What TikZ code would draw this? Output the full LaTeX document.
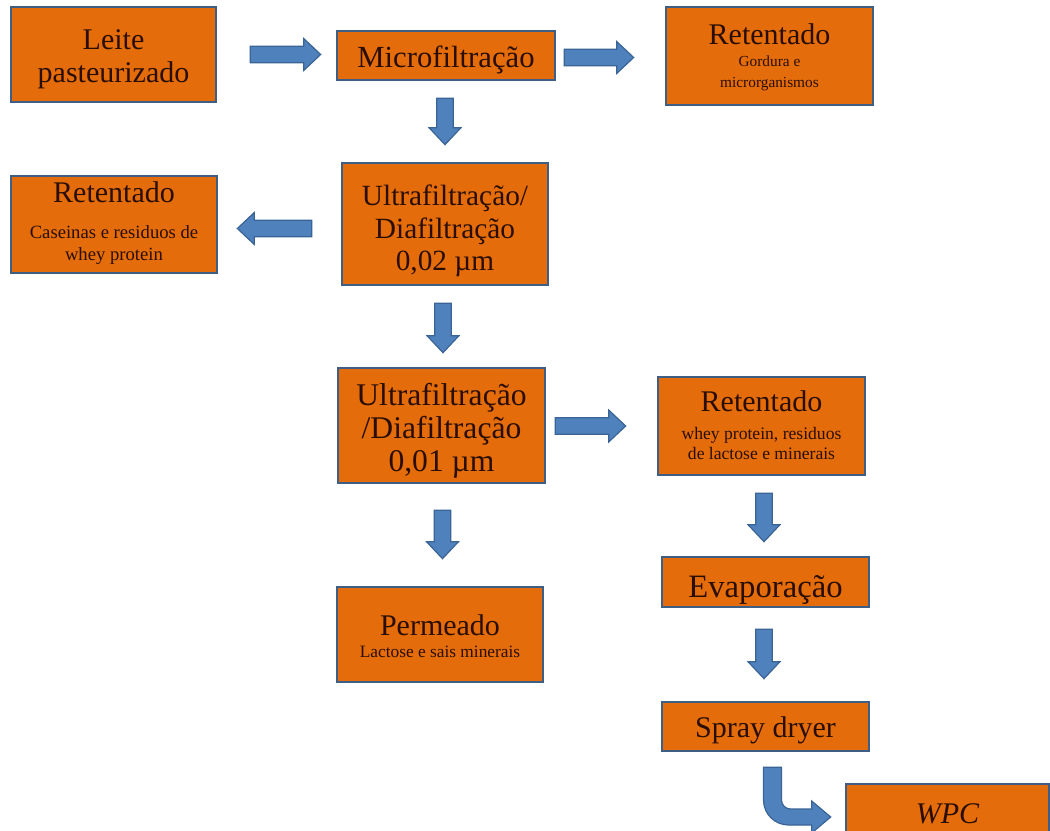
\documentclass[tikz,border=0pt]{standalone}
\usepackage{fontspec}
\setmainfont{Liberation Serif}
\usetikzlibrary{calc}

\definecolor{boxfill}{HTML}{E46C0A}
\definecolor{boxline}{HTML}{3F5E86}
\definecolor{arrowfill}{HTML}{4F81BD}
\definecolor{arrowline}{HTML}{3A6496}
\definecolor{ink}{HTML}{2A0E05}

\newcommand\bigtxt{\fontsize{22.5}{25}\selectfont}

\tikzset{
  box/.style={rectangle, draw=boxline, line width=2pt, fill=boxfill, text=ink,
    align=center, inner sep=0pt, font=\bigtxt, text depth=0pt},
  % width and height of a box, in pixels of the layout grid
  sz/.style n args={2}{minimum width=#1*0.75pt, minimum height=#2*0.75pt},
  % sets where the text block sits vertically inside its box
  base/.style={text height=#1},
  barrow/.style={draw=arrowline, fill=arrowfill, line width=0.9pt, line join=miter},
}

% straight block arrow from #1 to #2 (shaft 12.4pt, head 24pt wide, 12.75pt long)
\newcommand\blockarrow[2]{%
  \coordinate (ba-n) at ($(#2)!12.75pt!(#1)$);
  \draw[barrow] ($(#1)!6.2pt!90:(#2)$) -- ($(ba-n)!6.2pt!-90:(#1)$)
    -- ($(ba-n)!12pt!-90:(#1)$) -- (#2) -- ($(ba-n)!12pt!90:(#1)$)
    -- ($(ba-n)!6.2pt!90:(#1)$) -- ($(#1)!6.2pt!-90:(#2)$) -- cycle;}

\begin{document}
\begin{tikzpicture}[x=0.75pt, y=-0.75pt]
\useasboundingbox (0,0) rectangle (1050,831);
\fill[white] (0,0) rectangle (1050,831);

% process boxes
\node[box, sz={205}{95}, base=42pt] (leite) at (113.5,54.5) {Leite\\pasteurizado};
\node[box, sz={218}{49}, base=18.75pt, font=\fontsize{23}{25}\selectfont] (micro) at (446,55.5)
  {Microfiltração};
\node[box, sz={207}{98}, base=48pt, font=\fontsize{11.5}{15.75}\selectfont] (ret1) at (769.5,56)
  {{\bigtxt Retentado}\\[1pt]Gordura e\\microrganismos};
\node[box, sz={206}{97}, base=53.25pt, font=\fontsize{14}{16.5}\selectfont] (ret2) at (114,224.5)
  {{\bigtxt Retentado}\\[10pt]Caseinas e residuos de\\whey protein};
\node[box, sz={206}{122}, base=70.5pt, font=\fontsize{22}{24.6}\selectfont] (uf1) at (445,224)
  {Ultrafiltração/\\Diafiltração\\0,02 µm};
\node[box, sz={207}{115}, base=68.25pt, font=\fontsize{23.7}{24.75}\selectfont] (uf2) at (441.5,425.5)
  {Ultrafiltração\\/Diafiltração\\0,01 µm};
\node[box, sz={207}{98}, base=49.5pt, font=\fontsize{13.2}{15}\selectfont] (ret3) at (761.5,426)
  {{\bigtxt Retentado}\\[5.5pt]whey protein, residuos\\de lactose e minerais};
\node[box, sz={207}{50}, base=22.5pt, font=\fontsize{24.5}{26}\selectfont] (evap) at (765.5,582)
  {Evaporação};
\node[box, sz={206}{95}, base=33.75pt, font=\fontsize{13}{14}\selectfont] (perm) at (440,634.5)
  {{\bigtxt Permeado}\\[2.5pt]Lactose e sais minerais};
\node[box, sz={207}{49}, base=15.75pt] (spray) at (765.5,726.5) {Spray dryer};
\node[box, sz={203}{52}, base=19.5pt, font=\bigtxt\itshape] (wpc) at (947.5,810) {WPC};

% arrow end points
\coordinate (a1s) at ($(leite.east)+(33,0)$);
\coordinate (a1e) at ($(a1s -| micro.west)+(-15,0)$);
\coordinate (a2s) at ($(micro.east)+(8,2)$);
\coordinate (a2e) at ($(a2s -| ret1.west)+(-31,0)$);
\coordinate (a3s) at ($(micro.south)+(-1,17)$);
\coordinate (a3e) at ($(a3s |- uf1.north)+(0,-17)$);
\coordinate (a4s) at ($(uf1.west)+(-29,4.5)$);
\coordinate (a4e) at ($(a4s -| ret2.east)+(19,0)$);
\coordinate (a5s) at ($(uf1.south)+(-2,17)$);
\coordinate (a5e) at ($(a5s |- uf2.north)+(0,-14)$);
\coordinate (a6s) at ($(uf2.east)+(9,0.5)$);
\coordinate (a6e) at ($(a6s -| ret3.west)+(-31,0)$);
\coordinate (a7s) at ($(uf2.south)+(1,26)$);
\coordinate (a7e) at ($(a7s |- perm.north)+(0,-27)$);
\coordinate (a8s) at ($(ret3.south)+(2.5,17)$);
\coordinate (a8e) at ($(a8s |- evap.north)+(0,-14)$);
\coordinate (a9s) at ($(evap.south)+(-1.5,21)$);
\coordinate (a9e) at ($(a9s |- spray.north)+(0,-22)$);
\coordinate (bendtop) at ($(spray.south)+(7,15)$);
\coordinate (bendtip) at ($(wpc.west)+(-14,7)$);

% straight arrows
\blockarrow{a1s}{a1e}
\blockarrow{a2s}{a2e}
\blockarrow{a3s}{a3e}
\blockarrow{a4s}{a4e}
\blockarrow{a5s}{a5e}
\blockarrow{a6s}{a6e}
\blockarrow{a7s}{a7e}
\blockarrow{a8s}{a8e}
\blockarrow{a9s}{a9e}

% bent arrow from the spray dryer to the product
\draw[barrow] let \p1=(bendtop), \p2=(bendtip) in
  (\x1-6.75pt,\y1) -- (\x1-6.75pt,\y2-6pt+18.75pt)
  arc[start angle=180, end angle=270, radius=18.75pt]
  -- (\x2-14.25pt,\y2-6pt) -- (\x2-14.25pt,\y2-12pt) -- (\p2)
  -- (\x2-14.25pt,\y2+12pt) -- (\x2-14.25pt,\y2+6pt)
  -- (\x1+13.5pt,\y2+6pt)
  arc[start angle=270, end angle=180, radius=6.75pt]
  -- (\x1+6.75pt,\y1) -- cycle;
\end{tikzpicture}
\end{document}
